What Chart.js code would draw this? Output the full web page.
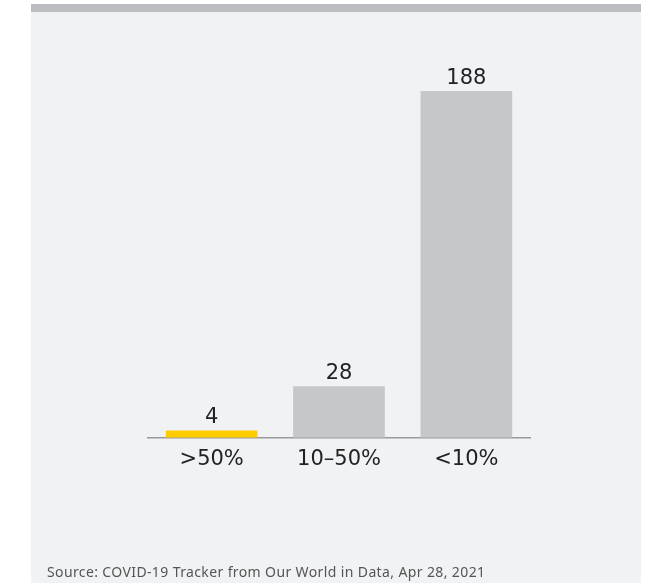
<!DOCTYPE html>
<html>
<head>
<meta charset="utf-8">
<script src="https://cdn.jsdelivr.net/npm/chart.js@4"></script>
<style>
  html, body { margin: 0; padding: 0; background: #ffffff; }
  #panel {
    position: absolute; left: 31px; top: 4px; width: 610px; height: 571px;
    background: #f1f2f4; border-top: 8px solid #bcbdc0;
  }
  #wrap { position: absolute; left: 0; top: 0; width: 653px; height: 583px; }
  #source {
    position: absolute; left: 47px; top: 562px;
    font-family: "Noto Sans", sans-serif; font-size: 14px; letter-spacing: 0.38px; color: #555;
    white-space: nowrap;
  }
</style>
</head>
<body>
<div id="panel"></div>
<div id="wrap"><canvas id="chart"></canvas></div>
<div id="source">Source: COVID-19 Tracker from Our World in Data, Apr 28, 2021</div>
<script>
// 数据
const categories = ['>50%', '10–50%', '<10%'];
const values = [4, 28, 188];
const barColors = ['#ffcc00', '#c6c7c9', '#c6c7c9'];

// 柱顶数值标签
const valueLabels = {
  id: 'valueLabels',
  afterDatasetsDraw(chart) {
    const ctx = chart.ctx;
    const meta = chart.getDatasetMeta(0);
    ctx.save();
    ctx.font = '21px "DejaVu Sans", sans-serif';
    ctx.fillStyle = '#222';
    ctx.textAlign = 'center';
    ctx.textBaseline = 'alphabetic';
    meta.data.forEach((bar, i) => {
      ctx.fillText(String(values[i]), bar.x, bar.y - 7);
    });
    ctx.restore();
  }
};

new Chart(document.getElementById('chart'), {
  type: 'bar',
  data: {
    labels: categories,
    datasets: [{
      data: values,
      backgroundColor: barColors,
      borderWidth: 0,
      barPercentage: 0.8,
      categoryPercentage: 0.9
    }]
  },
  options: {
    responsive: true,
    maintainAspectRatio: false,
    animation: false,
    layout: { padding: { left: 148, right: 123, top: 91, bottom: 102 } },
    plugins: { legend: { display: false }, tooltip: { enabled: false } },
    scales: {
      x: {
        grid: { display: false, drawTicks: false },
        border: { color: '#999', width: 1.5 },
        ticks: {
          padding: 9,
          color: '#222',
          font: { family: '"DejaVu Sans", sans-serif', size: 21 }
        }
      },
      y: {
        display: false,
        min: 0,
        max: 188
      }
    }
  },
  plugins: [valueLabels]
});
</script>
</body>
</html>
